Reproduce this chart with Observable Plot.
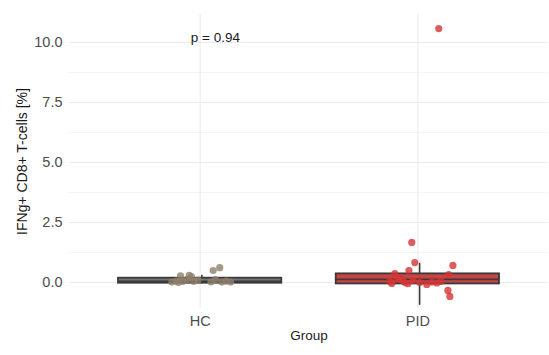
<!DOCTYPE html>
<html>
<head>
<meta charset="utf-8">
<script src="https://cdn.jsdelivr.net/npm/d3@7"></script>
<script src="https://cdn.jsdelivr.net/npm/@observablehq/plot@0.6"></script>
<style>
  html, body { margin: 0; padding: 0; background: #fff; }
  #chart svg { display: block; }
</style>
</head>
<body>
<div id="chart"></div>
<script>
// ---- data ----
const groups = ["HC", "PID"];
const groupColors = ["#8f806b", "#d43434"];
const boxFills = ["#767676", "#c94343"];

const hcValues = [0.02, 0.06, 0.28, 0.05, 0.12, 0.25, 0.05, 0.10, 0.03, 0.50, 0.62, 0.12, 0.02, 0.06, 0.02, 0.00, 0.30];
const hcJitter = [-0.13, -0.11, -0.09, -0.08, -0.06, -0.04, -0.03, -0.01, 0.05, 0.06, 0.09, 0.07, 0.10, 0.12, 0.14, -0.10, -0.05];

const pidValues = [10.58, 1.67, 0.83, 0.50, 0.71, 0.33, 0.37, 0.17, -0.04, 0.20, 0.00, -0.05, 0.08, 0.00, -0.08, -0.02, 0.05, -0.33, -0.58, 0.05, 0.10, 0.02];
const pidJitter = [0.096, -0.028, -0.014, -0.041, 0.161, 0.142, -0.106, -0.096, -0.12, -0.083, -0.06, -0.046, -0.023, 0.009, 0.041, 0.087, 0.106, 0.138, 0.147, -0.129, -0.073, 0.064];

const boxQ1 = [-0.03, -0.06];
const boxMedian = [0.05, 0.13];
const boxQ3 = [0.18, 0.36];
const whiskerLow = [-0.05, -0.95];
const whiskerHigh = [0.30, 0.80];

const yTicks = [0, 2.5, 5, 7.5, 10];
const yMinor = [1.25, 3.75, 6.25, 8.75];
const pLabel = "p = 0.94";
const pLabelY = 10.2;
const yTitle = "IFNg+ CD8+ T-cells [%]";
const xTitle = "Group";

// ---- tables ----
const points = [
  ...hcValues.map((v, i) => ({g: 0, x: 1 + hcJitter[i], y: v})),
  ...pidValues.map((v, i) => ({g: 1, x: 2 + pidJitter[i], y: v}))
];
const boxes = groups.map((g, i) => ({
  g: i, x: i + 1, q1: boxQ1[i], med: boxMedian[i], q3: boxQ3[i], lo: whiskerLow[i], hi: whiskerHigh[i]
}));
const halfW = 0.375;

const font = "'Liberation Sans', Arial, Helvetica, sans-serif";

const chart = Plot.plot({
  width: 549,
  height: 355,
  marginLeft: 69,
  marginRight: 1,
  marginTop: 14,
  marginBottom: 47,
  style: {fontFamily: font, background: "#fff"},
  x: {domain: [0.4, 2.6], axis: null},
  y: {domain: [-1.083, 11.167], axis: null},
  marks: [
    // grid
    Plot.ruleY(yMinor, {stroke: "#f4f4f4", strokeWidth: 1}),
    Plot.ruleY(yTicks, {stroke: "#ebebeb", strokeWidth: 1.1}),
    Plot.ruleX([1, 2], {stroke: "#ebebeb", strokeWidth: 1.1}),
    // axes
    Plot.axisY(yTicks, {tickSize: 0, tickPadding: 7, tickFormat: d => d.toFixed(1), fontSize: 14.5, fill: "#4d4d4d", label: null}),
    Plot.axisX([1, 2], {tickSize: 0, tickPadding: 7, tickFormat: d => groups[d - 1], fontSize: 14.5, fill: "#4d4d4d", label: null}),
    // whiskers
    Plot.ruleX(boxes, {x: d => d.x + 0.008, y1: "lo", y2: "hi", stroke: "#3b3b3b", strokeWidth: 1.6}),
    // boxes
    Plot.rect(boxes, {
      x1: d => d.x - halfW, x2: d => d.x + halfW, y1: "q1", y2: "q3",
      fill: d => boxFills[d.g], stroke: "#3a3a3a", strokeWidth: 1.8
    }),
    Plot.ruleY(boxes, {x1: d => d.x - halfW, x2: d => d.x + halfW, y: "med", stroke: "#3a3a3a", strokeWidth: 1.8}),
    // jittered points
    Plot.dot(points, {x: "x", y: "y", r: 3.6, fill: d => groupColors[d.g], fillOpacity: 0.8, stroke: "none"}),
    // p label
    Plot.text([pLabel], {x: 1.07, y: pLabelY, text: d => d, fontSize: 13.5, fill: "#1a1a1a"}),
    // titles
    Plot.text([xTitle], {frameAnchor: "bottom", dy: 31, text: d => d, fontSize: 13.5, fill: "#1a1a1a"}),
    Plot.text([yTitle], {frameAnchor: "left", dx: -47, rotate: -90, textAnchor: "middle", text: d => d, fontSize: 14, fill: "#1a1a1a"})
  ]
});

document.getElementById("chart").appendChild(chart);
</script>
</body>
</html>
